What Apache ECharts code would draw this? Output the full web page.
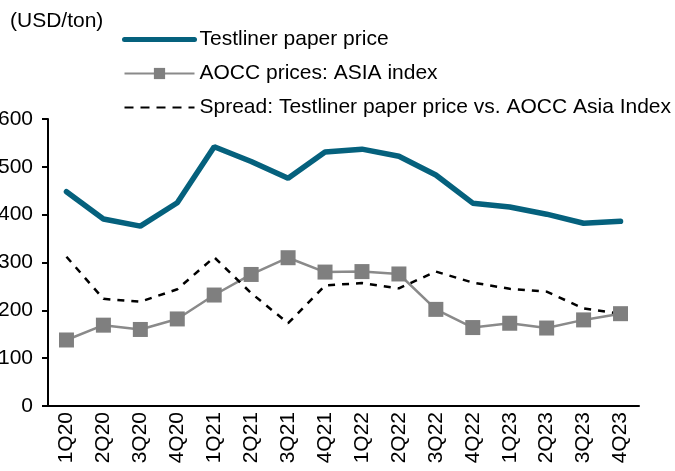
<!DOCTYPE html>
<html>
<head>
<meta charset="utf-8">
<script src="https://cdn.jsdelivr.net/npm/echarts@6/dist/echarts.min.js"></script>
<style>
html, body { margin: 0; padding: 0; background: #fff; }
#chart { width: 675px; height: 471px; }
</style>
</head>
<body>
<div id="chart"></div>
<script>
// 季度
var quarters = ['1Q20','2Q20','3Q20','4Q20','1Q21','2Q21','3Q21','4Q21',
                '1Q22','2Q22','3Q22','4Q22','1Q23','2Q23','3Q23','4Q23'];
var testliner = [448, 391, 376, 425, 542, 511, 476, 531, 537, 522, 483, 424, 416, 401, 382, 386];
var aocc      = [138, 169, 160, 182, 232, 275, 310, 280, 281, 276, 202, 164, 173, 163, 180, 193];
var spread    = [312, 224, 218, 244, 311, 236, 173, 252, 257, 246, 281, 258, 245, 239, 204, 193];
var yTicks = [0, 100, 200, 300, 400, 500, 600];

var font = '"Liberation Sans", Arial, sans-serif';
var hidden = { color: 'rgba(0,0,0,0)', borderWidth: 0 };
var chart = echarts.init(document.getElementById('chart'));
var option = {
    animation: false,
    title: {
        text: '(USD/ton)',
        left: 5,
        top: 6,
        textStyle: { fontSize: 21, fontWeight: 'normal', color: '#000', fontFamily: font }
    },
    legend: {
        orient: 'vertical',
        left: 117,
        top: 24,
        itemWidth: 70,
        itemHeight: 14,
        itemGap: 13,
        textStyle: { fontSize: 21, color: '#000', fontFamily: font, lineHeight: 21 },
        data: [
            { name: 'Testliner paper price', itemStyle: hidden, lineStyle: { width: 5 } },
            { name: 'AOCC prices: ASIA index' },
            { name: 'Spread: Testliner paper price vs. AOCC Asia Index', itemStyle: hidden, lineStyle: { type: [9, 7] } }
        ]
    },
    grid: {
        left: 48,
        right: 36,
        top: 119,
        bottom: 65,
        outerBoundsMode: 'none'
    },
    xAxis: {
        type: 'category',
        data: quarters,
        axisLine: { lineStyle: { color: '#000', width: 2 } },
        axisTick: { length: 6, lineStyle: { color: '#000', width: 2 } },
        axisLabel: { rotate: 90, fontSize: 21, color: '#000', fontFamily: font, margin: 6 }
    },
    yAxis: {
        type: 'value',
        min: yTicks[0],
        max: yTicks[yTicks.length - 1],
        interval: 100,
        splitLine: { show: false },
        axisLine: { show: true, lineStyle: { color: '#000', width: 2 } },
        axisTick: { show: true, length: 6, lineStyle: { color: '#000', width: 2 } },
        axisLabel: { fontSize: 21, color: '#000', fontFamily: font, margin: 15 }
    },
    series: [
        {
            name: 'Testliner paper price',
            type: 'line',
            data: testliner,
            symbol: 'none',
            lineStyle: { color: '#05617d', width: 5.5, cap: 'round' },
            itemStyle: { color: '#05617d' }
        },
        {
            name: 'AOCC prices: ASIA index',
            type: 'line',
            data: aocc,
            symbol: 'rect',
            symbolSize: 15,
            lineStyle: { color: '#8a8a8a', width: 2.5 },
            itemStyle: { color: '#7f7f7f' }
        },
        {
            name: 'Spread: Testliner paper price vs. AOCC Asia Index',
            type: 'line',
            data: spread,
            symbol: 'none',
            lineStyle: { color: '#000', width: 2.5, type: [7, 7] },
            itemStyle: { color: '#000' }
        }
    ]
};
chart.setOption(option);
</script>
</body>
</html>
